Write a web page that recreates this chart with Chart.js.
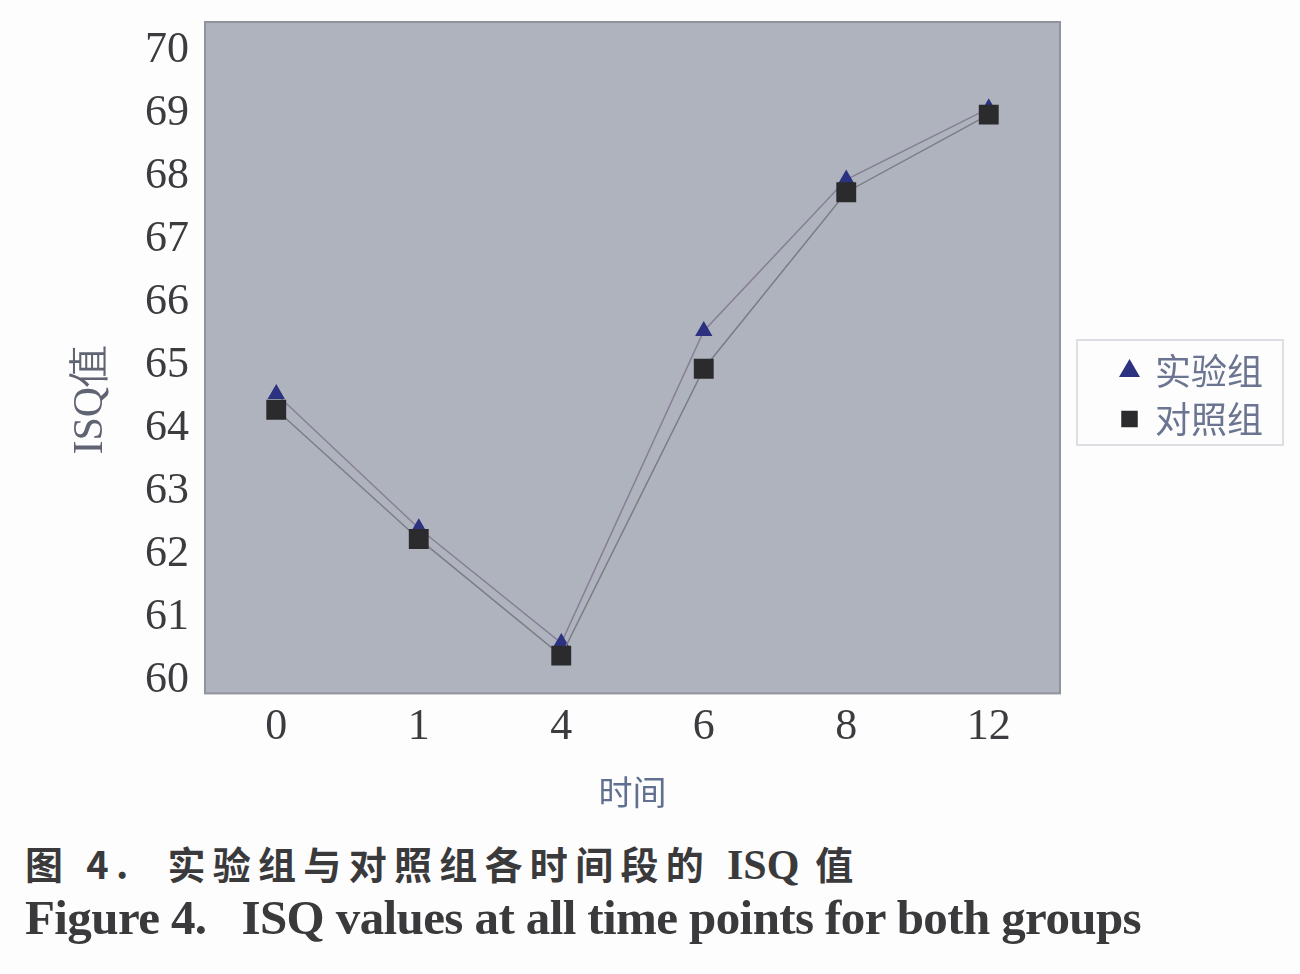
<!DOCTYPE html>
<html>
<head>
<meta charset="utf-8">
<script src="https://cdn.jsdelivr.net/npm/chart.js@4.4.1/dist/chart.umd.min.js"></script>
<style>
  body { margin: 0; background: #fdfdfd; width: 1300px; height: 974px; overflow: hidden; position: relative; }
  #wrap { position: absolute; left: 0; top: 0; width: 1300px; height: 830px; }
  .cap { position: absolute; left: 25px; white-space: pre; color: #3a3a3c; font-weight: bold; }
  #capCn { top: 835px; font-family: "Noto Sans CJK SC", sans-serif; font-size: 38px; letter-spacing: 7.3px; }
  #capCn .lat { letter-spacing: 0; font-family: "Liberation Serif", serif; font-size: 42px; }
  #capEn { top: 889px; font-family: "Liberation Serif", "DejaVu Serif", serif; font-size: 49px; letter-spacing: -0.6px; }
</style>
</head>
<body>
<div id="wrap"><canvas id="isqChart" width="1300" height="830"></canvas></div>
<div class="cap" id="capCn">图 4.  实验组与对照组各时间段的 <span class="lat">ISQ</span> 值</div>
<div class="cap" id="capEn">Figure 4.   ISQ values at all time points for both groups</div>
<script>
// time points (x axis categories)
const timePoints = ['0', '1', '4', '6', '8', '12'];
// ISQ values
const expValues = [64.55, 62.42, 60.6, 65.55, 67.95, 69.08];
const ctrlValues = [64.3, 62.25, 60.4, 64.95, 67.75, 68.98];
const yTicks = [60, 61, 62, 63, 64, 65, 66, 67, 68, 69, 70];

const serif = '"Liberation Serif", "DejaVu Serif", serif';

// gray plot background + frame
const plotBg = {
    id: 'plotBg',
    beforeDraw(chart) {
        const { ctx, chartArea: a } = chart;
        ctx.save();
        ctx.fillStyle = '#aeb3be';
        ctx.fillRect(a.left, a.top, a.right - a.left, a.bottom - a.top);
        ctx.strokeStyle = '#8e939c';
        ctx.lineWidth = 2;
        ctx.strokeRect(a.left, a.top, a.right - a.left, a.bottom - a.top);
        ctx.restore();
    }
};

// legend sits outside the plot, to the right; move it there after layout
const legendPlace = {
    id: 'legendPlace',
    afterLayout(chart) {
        const lg = chart.legend;
        const w = lg.width;
        lg.left = 1110;
        lg.right = lg.left + w;
        lg.top = 290;
        lg.bottom = 500;
    },
    afterDraw(chart) {
        const ctx = chart.ctx;
        ctx.save();
        ctx.strokeStyle = '#dcdee3';
        ctx.lineWidth = 2;
        ctx.strokeRect(1077, 340, 206, 105);
        ctx.restore();
    }
};

const isqChart = new Chart(document.getElementById('isqChart'), {
    type: 'line',
    data: {
        labels: timePoints,
        datasets: [{
            label: '实验组',
            data: expValues,
            order: 1,
            borderColor: '#877f96',
            borderWidth: 1.5,
            pointStyle: 'triangle',
            pointRadius: 8.5,
            pointBackgroundColor: '#2c3180',
            pointBorderColor: '#2c3180',
            tension: 0
        },
        {
            label: '对照组',
            data: ctrlValues,
            order: 0,
            borderColor: '#7b7d86',
            borderWidth: 1.5,
            pointStyle: 'rect',
            pointRadius: 13,
            pointBackgroundColor: '#2b2b2d',
            pointBorderColor: '#2b2b2d',
            tension: 0
        }]
    },
    options: {
        responsive: false,
        animation: false,
        layout: { padding: { top: 22, right: 240, bottom: 18, left: 0 } },
        plugins: {
            tooltip: { enabled: false },
            legend: {
                position: 'chartArea',
                labels: {
                    usePointStyle: true,
                    boxWidth: 15,
                    boxHeight: 15,
                    padding: 12,
                    color: '#6b7591',
                    sort: (a, b) => a.datasetIndex - b.datasetIndex,
                    font: { family: '"Noto Sans CJK SC", sans-serif', size: 36 }
                }
            }
        },
        scales: {
            x: {
                offset: true,
                grid: { display: false },
                border: { display: false },
                ticks: { color: '#3c3c40', padding: 0, font: { family: serif, size: 44 } },
                title: {
                    display: true,
                    text: '时间',
                    color: '#61708f',
                    padding: { top: 17, bottom: 0 },
                    font: { family: '"Noto Sans CJK SC", sans-serif', size: 34 }
                }
            },
            y: {
                min: 59.8,
                max: 70.45,
                afterBuildTicks: (scale) => { scale.ticks = yTicks.map(v => ({ value: v })); },
                afterFit: (scale) => {
                    scale.width = 205;
                    scale.paddingTop = 0;
                    scale.paddingBottom = 0;
                },
                grid: { display: false },
                border: { display: false },
                ticks: { color: '#3c3c40', padding: 8, font: { family: serif, size: 44 } },
                title: {
                    display: true,
                    text: 'ISQ值\u2003\u2003',
                    color: '#5f6372',
                    padding: { top: 66, bottom: 0 },
                    font: { family: serif, size: 42 }
                }
            }
        }
    },
    plugins: [plotBg, legendPlace]
});
</script>
</body>
</html>
